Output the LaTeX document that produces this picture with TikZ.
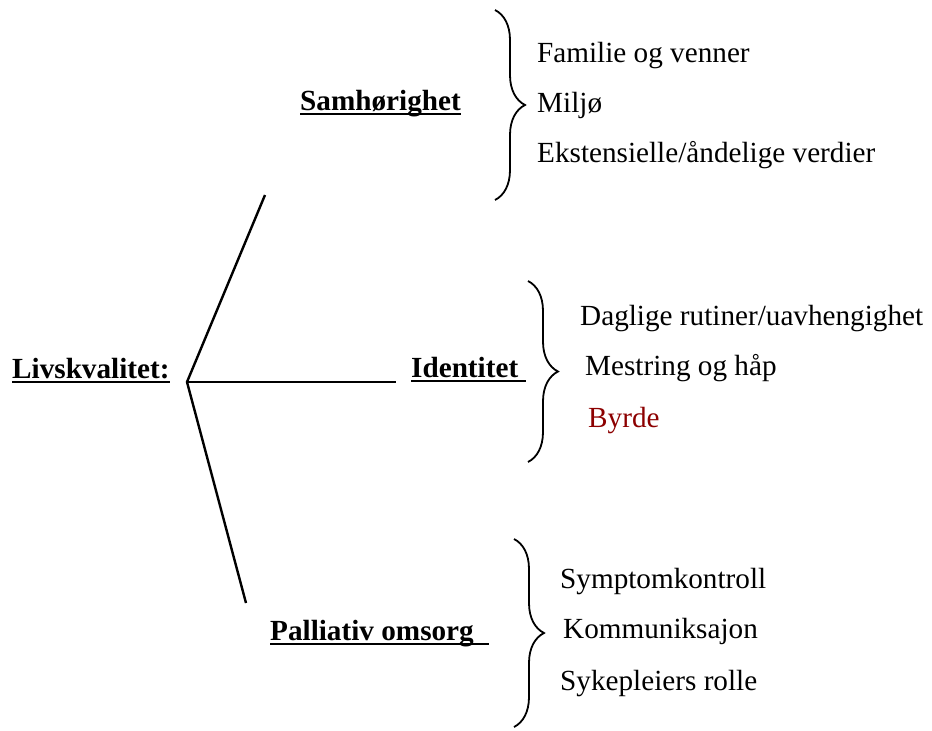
\documentclass[tikz,border=0pt]{standalone}
\usepackage{fontspec}
\setmainfont{Liberation Serif}
\usetikzlibrary{decorations.pathreplacing}
\definecolor{byrdered}{RGB}{140,0,0}

\begin{document}
\begin{tikzpicture}[x=1pt,y=-1pt,
    every node/.style={font=\fontsize{29.2}{35}\selectfont, inner sep=0pt, anchor=base west},
    head/.style={font=\fontsize{29.2}{35}\selectfont\bfseries},
    bar/.style={line width=2.4pt},
    ulbar/.style={line width=1.6pt},
    curly/.style={decorate, decoration={brace, amplitude=30pt}, line width=1.8pt}]

    \useasboundingbox (0,0) rectangle (932,731);

    % Root and the three branches
    \node[head] (liv) at (12,378) {Livskvalitet:};
    \coordinate (fork) at (187,382);
    \coordinate (up) at (265,195);
    \coordinate (mid) at (396,382);
    \coordinate (down) at (246,603);
    \draw[bar] (up) -- (fork) -- (down);
    \draw[bar] (fork) -- (mid);

    \node[head] (sam) at (300,110) {Samhørighet};
    \node[head] (iden) at (411,377) {Identitet\ \mbox{}};
    \node[head] (pal) at (270,640) {Palliativ omsorg\ \ \mbox{}};

    % Underlines
    \foreach \n in {liv,sam,iden,pal}
        \draw[ulbar] ([yshift=-4pt]\n.base west) -- ([yshift=-4pt]\n.base east);

    % Curly braces
    \draw[curly] (495,10) -- (495,200);
    \draw[curly] (528,281) -- (528,462);
    \draw[curly] (514,539) -- (514,727);

    % Sub-items
    \node (fam) at (537,62) {Familie og venner};
    \node (mil) at (537,112) {Miljø};
    \node (eks) at (537,162) {Ekstensielle/åndelige verdier};

    \node (dag) at (580,325) {Daglige rutiner/uavhengighet};
    \node (mes) at (585,375) {Mestring og håp};
    \node[text=byrdered] (byr) at (588,427) {Byrde};

    \node (sym) at (560,588) {Symptomkontroll};
    \node (kom) at (563,638) {Kommuniksajon};
    \node (syk) at (560,690) {Sykepleiers rolle};
\end{tikzpicture}
\end{document}
